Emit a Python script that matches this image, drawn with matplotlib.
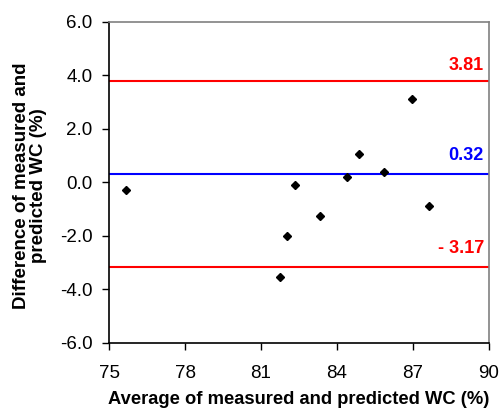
import matplotlib
matplotlib.use("Agg")
import matplotlib.pyplot as plt

plt.rcParams['font.family'] = ['Liberation Sans', 'DejaVu Sans']

avg_wc = [75.67, 81.75, 82.01, 82.34, 83.33, 84.38, 84.87, 85.87, 86.96, 87.65]
diff_wc = [-0.28, -3.52, -1.99, -0.09, -1.25, 0.22, 1.07, 0.38, 3.11, -0.87]
mean_diff = 0.32
upper_loa = 3.81
lower_loa = -3.17

x_ticks = [75, 78, 81, 84, 87, 90]
y_ticks = [-6, -4, -2, 0, 2, 4, 6]

fig = plt.figure(figsize=(5.01, 4.15), dpi=100)
ax = fig.add_axes([0.2176, 0.1735, 0.7584, 0.7735])

ax.axhline(upper_loa, color="#ff0000", lw=1.5)
ax.axhline(lower_loa, color="#ff0000", lw=1.5)
ax.axhline(mean_diff, color="#0000ff", lw=1.5)
ax.plot(avg_wc, diff_wc, "D", color="black", markersize=4.2, zorder=3)

# level labels, nudged up a few points above each line
for val, txt, col, dy in [(upper_loa, f"{upper_loa:.2f}", "#ff0000", 5),
                          (mean_diff, f"{mean_diff:.2f}", "#0000ff", 7.5),
                          (lower_loa, f"- {abs(lower_loa):.2f}", "#ff0000", 7.5)]:
    ax.annotate(txt, (89.8, val), xytext=(0, dy), textcoords="offset points",
                color=col, fontsize=13, fontweight="bold",
                ha="right", va="bottom")

ax.set_xlim(75, 90)
ax.set_ylim(-6, 6)
ax.set_xticks(x_ticks)
ax.set_yticks(y_ticks)
ax.set_yticklabels([f"{v:.1f}" for v in y_ticks])
ax.tick_params(direction="out", length=5, width=1, labelsize=13.5, pad=7)
ax.tick_params(axis="x", pad=11)

for s in ("top", "right"):
    ax.spines[s].set_color("#808080")
    ax.spines[s].set_linewidth(1.2)
for s in ("left", "bottom"):
    ax.spines[s].set_color("black")
    ax.spines[s].set_linewidth(1.2)

ax.set_xlabel("Average of measured and predicted WC (%)", fontsize=13.2,
              fontweight="bold", labelpad=6)
ax.set_ylabel("Difference of measured and\npredicted WC (%)", fontsize=13.5,
              fontweight="bold", labelpad=9, linespacing=1.0)
ax.yaxis.label.set_y(0.49)

fig.savefig("out.png", dpi=100)
